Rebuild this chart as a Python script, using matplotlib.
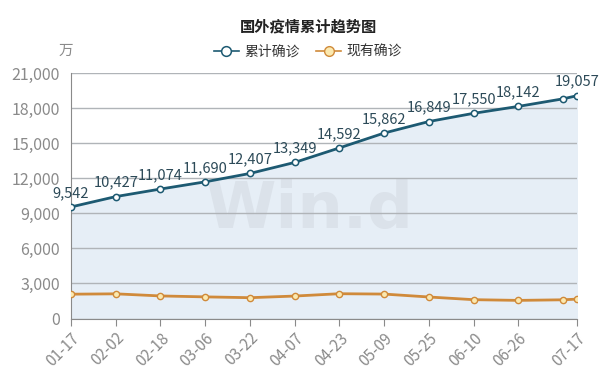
import matplotlib
matplotlib.use("Agg")
import matplotlib.pyplot as plt
import numpy as np
import pandas as pd

plt.rcParams['font.family'] = ['Noto Sans CJK SC', 'DejaVu Sans']

dates = ["2021-01-17", "2021-02-02", "2021-02-18", "2021-03-06", "2021-03-22",
         "2021-04-07", "2021-04-23", "2021-05-09", "2021-05-25", "2021-06-10",
         "2021-06-26", "2021-07-12", "2021-07-17"]
cumulative = [9542, 10427, 11074, 11690, 12407, 13349, 14592, 15862, 16849,
              17550, 18142, 18790, 19057]
current = [2080, 2110, 1930, 1850, 1780, 1920, 2120, 2090, 1840, 1610, 1550,
           1600, 1660]
labelled = [True] * 11 + [False, True]
tick_dates = ["2021-01-17", "2021-02-02", "2021-02-18", "2021-03-06", "2021-03-22",
              "2021-04-07", "2021-04-23", "2021-05-09", "2021-05-25", "2021-06-10",
              "2021-06-26", "2021-07-17"]
yticks = [0, 3000, 6000, 9000, 12000, 15000, 18000, 21000]

x = pd.to_datetime(dates)
xt = pd.to_datetime(tick_dates)

fig = plt.figure(figsize=(6.16, 3.73), dpi=100)
ax = fig.add_axes([71/616, 1 - 318.5/373, (577-71)/616, (318.5-73)/373])

c_cum = '#1d5a72'
c_cur = '#d08a3a'

ax.fill_between(x, cumulative, 0, color='#e6eef6', zorder=1)
ax.text(0.47, 0.44, 'Win.d', transform=ax.transAxes, fontsize=46, fontweight='bold',
        color='#dbe2ea', ha='center', va='center', zorder=1.5, family='DejaVu Sans')

for y in yticks:
    ax.axhline(y, color='#b0b4b8', lw=1.0, zorder=2)

ax.plot(x, cumulative, color=c_cum, lw=2.0, marker='o', ms=4.5,
        markerfacecolor='white', markeredgecolor=c_cum, markeredgewidth=1.1, zorder=4,
        label='累计确诊')
ax.plot(x, current, color=c_cur, lw=2.0, marker='o', ms=4.5,
        markerfacecolor='#fbe9b0', markeredgecolor=c_cur, markeredgewidth=1.0, zorder=4,
        label='现有确诊')

for xi, v, lab in zip(x, cumulative, labelled):
    if lab:
        ax.annotate(f'{v:,}', (xi, v), xytext=(0, 5), textcoords='offset points',
                    ha='center', va='bottom', fontsize=10.5, color='#2c4a58', zorder=5)

ax.set_xlim(x[0], x[-1])
ax.set_ylim(0, 21000)
ax.set_yticks(yticks)
ax.set_yticklabels([f'{v:,}' for v in yticks])
ax.set_xticks(xt)
ax.set_xticklabels([d.strftime('%m-%d') for d in xt], rotation=45, ha='right',
                   rotation_mode='anchor')
ax.tick_params(axis='y', length=0, pad=8, labelsize=11.5, labelcolor='#8a8a8a')
ax.tick_params(axis='x', length=5, color='#8a8a8a', pad=3, labelsize=11,
               labelcolor='#8a8a8a')
for s in ['top', 'right']:
    ax.spines[s].set_visible(False)
ax.spines['left'].set_color('#8a8a8a')
ax.spines['bottom'].set_color('#8a8a8a')
ax.spines['left'].set_zorder(3)

fig.text(0.5, 1 - 26/373, '国外疫情累计趋势图', ha='center', va='center',
         fontsize=11, fontweight='bold', color='#222222')
fig.text(66/616, 1 - 51/373, '万', ha='center', va='center', fontsize=10.5,
         color='#8a8a8a')

leg = fig.legend(loc='center', bbox_to_anchor=(0.5, 1 - 52/373), ncol=2,
                 frameon=False, fontsize=10, handlelength=1.8, columnspacing=1.2,
                 handletextpad=0.4)
for t in leg.get_texts():
    t.set_color('#333333')
for h in leg.legend_handles:
    h.set_linewidth(1.2)
    h.set_markersize(7)

fig.savefig('out.png', dpi=100, facecolor='white')
